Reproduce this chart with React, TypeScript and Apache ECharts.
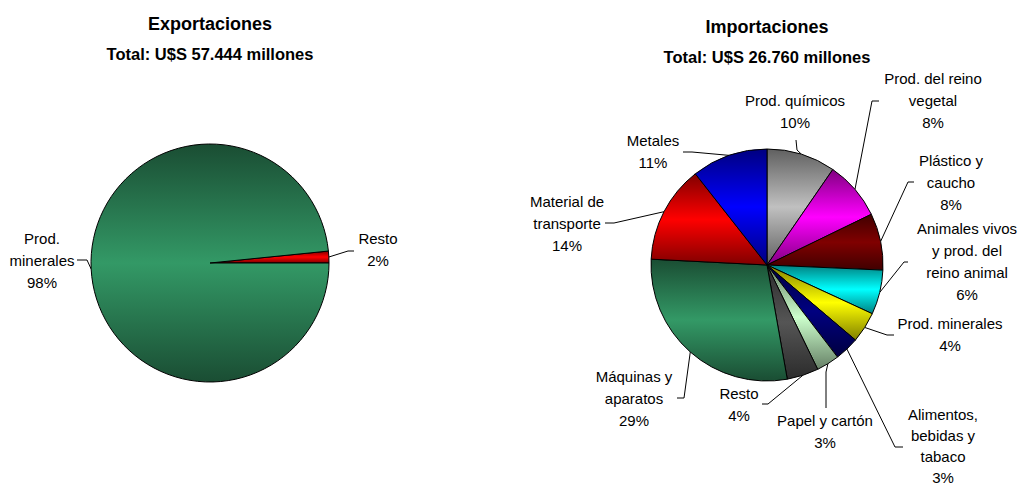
import React, { useEffect, useRef } from 'react';
import * as echarts from 'echarts';

const FONT = '"Liberation Sans", Arial, Helvetica, sans-serif';

// ---- Data ----
const expTitle = 'Exportaciones';
const expSubtitle = 'Total: U$S 57.444 millones';
const expCategories = ['Resto', 'Prod. minerales'];
const expLabels = ['Resto', 'Prod.\nminerales'];
const expValues = [1.6, 98.4];
const expColors = ['#FF0000', '#339966'];

const impTitle = 'Importaciones';
const impSubtitle = 'Total: U$S 26.760 millones';
const impCategories = [
  'Prod. químicos',
  'Prod. del reino vegetal',
  'Plástico y caucho',
  'Animales vivos y prod. del reino animal',
  'Prod. minerales',
  'Alimentos, bebidas y tabaco',
  'Papel y cartón',
  'Resto',
  'Máquinas y aparatos',
  'Material de transporte',
  'Metales',
];
const impLabels = [
  'Prod. químicos',
  'Prod. del reino\nvegetal',
  'Plástico y\ncaucho',
  'Animales vivos\ny prod. del\nreino animal',
  'Prod. minerales',
  'Alimentos,\nbebidas y\ntabaco',
  'Papel y cartón',
  'Resto',
  'Máquinas y\naparatos',
  'Material de\ntransporte',
  'Metales',
];
const impValues = [9.6, 8.2, 7.9, 6.2, 4.3, 3.4, 3.2, 4.4, 28.6, 13.6, 10.6];
const impColors = [
  '#C0C0C0', '#FF00FF', '#800000', '#00FFFF', '#FFFF00', '#000080',
  '#CCFFCC', '#555555', '#339966', '#FF0000', '#0000FF',
];

// ---- Label placement (layout, not data) ----
type LL = { x: number; y: number; line: number[][]; lh?: number };
const expLabelLayout: LL[] = [
  { x: 378, y: 249.5, line: [[348, 251], [354, 251]] },
  { x: 42, y: 260, line: [[87, 260], [77, 260]] },
];
const impLabelLayout: LL[] = [
  { x: 795, y: 111.5, line: [[797, 150], [796, 140]] },
  { x: 933, y: 100.5, line: [[872, 101], [879, 101]] },
  { x: 951, y: 182, line: [[908, 182], [914, 182]] },
  { x: 967, y: 261, line: [[904, 262], [908, 262]] },
  { x: 950, y: 334, line: [[887, 335], [894, 335]] },
  { x: 943, y: 445.5, line: [[895, 447], [903, 447]], lh: 21 },
  { x: 825, y: 431.5, line: [[826, 372], [826, 408]] },
  { x: 739, y: 404.5, line: [[768, 404], [762, 404]] },
  { x: 634, y: 398, line: [[684, 398], [677, 398]] },
  { x: 567, y: 223, line: [[614, 223], [605, 223]] },
  { x: 653, y: 151.5, line: [[692, 152], [683, 152]] },
];

function shade(hex: string, f: number): string {
  const h = hex.replace('#', '');
  const r = Math.round(parseInt(h.slice(0, 2), 16) * f);
  const g = Math.round(parseInt(h.slice(2, 4), 16) * f);
  const b = Math.round(parseInt(h.slice(4, 6), 16) * f);
  return `rgb(${r},${g},${b})`;
}

function grad(c: string) {
  return new echarts.graphic.LinearGradient(0, 0, 0, 1, [
    { offset: 0, color: shade(c, 0.5) },
    { offset: 0.5, color: c },
    { offset: 1, color: shade(c, 0.5) },
  ]);
}

function makePie(
  cats: string[], labels: string[], vals: number[], colors: string[],
  layout: LL[], center: number[], radius: number, startAngle: number
) {
  return {
    type: 'pie',
    center,
    radius,
    startAngle,
    clockwise: true,
    avoidLabelOverlap: false,
    minShowLabelAngle: 0,
    silent: true,
    data: cats.map((name, i) => {
      const item: any = {
        name,
        value: vals[i],
        itemStyle: { color: grad(colors[i]) },
      };
      if (layout[i].lh) item.label = { lineHeight: layout[i].lh };
      return item;
    }),
    itemStyle: { borderColor: '#000', borderWidth: 1 },
    label: {
      show: true,
      position: 'outside',
      alignTo: 'none',
      formatter: (p: any) => `${labels[p.dataIndex]}\n${Math.round(p.percent)}%`,
      color: '#000',
      fontSize: 15,
      lineHeight: 22,
      fontFamily: FONT,
      align: 'center',
    },
    labelLine: {
      show: true,
      length: 10,
      length2: 5,
      lineStyle: { color: '#000', width: 1 },
    },
    labelLayout: (p: any) => {
      const L = layout[p.dataIndex];
      const a = p.labelLinePoints && p.labelLinePoints[0];
      const res: any = { x: L.x, y: L.y, align: 'center', verticalAlign: 'middle' };
      if (a) res.labelLinePoints = [[a[0], a[1]], ...L.line];
      return res;
    },
  };
}

export default function App() {
  const ref = useRef<HTMLDivElement>(null);
  useEffect(() => {
    if (!ref.current) return;
    const chart = echarts.init(ref.current, null, { renderer: 'svg' });
    const titleStyle = { fontSize: 18, fontWeight: 'bold', color: '#000', fontFamily: FONT };
    const subStyle = { fontSize: 16.5, fontWeight: 'bold', color: '#000', fontFamily: FONT };
    chart.setOption({
      animation: false,
      backgroundColor: '#fff',
      title: [
        {
          text: expTitle, subtext: expSubtitle, left: 210, top: 15, textAlign: 'center',
          padding: 0, itemGap: 12, textStyle: titleStyle, subtextStyle: subStyle,
        },
        {
          text: impTitle, subtext: impSubtitle, left: 767, top: 18, textAlign: 'center',
          padding: 0, itemGap: 12, textStyle: titleStyle, subtextStyle: subStyle,
        },
      ],
      series: [
        makePie(expCategories, expLabels, expValues, expColors, expLabelLayout, [210, 263], 119, 5.76),
        makePie(impCategories, impLabels, impValues, impColors, impLabelLayout, [767, 265], 116, 90),
      ],
    });
    return () => chart.dispose();
  }, []);
  return (
    <div
      ref={ref}
      style={{ position: 'absolute', left: 0, top: 0, width: 1022, height: 484, background: '#fff' }}
    />
  );
}
